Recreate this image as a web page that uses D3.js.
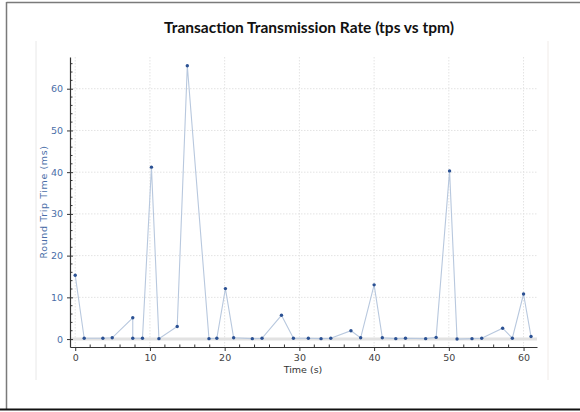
<!DOCTYPE html>
<html>
<head>
<meta charset="utf-8">
<script src="https://cdn.jsdelivr.net/npm/d3@7/dist/d3.min.js"></script>
<style>
  html, body { margin: 0; padding: 0; background: #fff; }
  svg { display: block; }
</style>
</head>
<body>
<svg id="chart" width="580" height="412"></svg>
<script>
const title = "Transaction Transmission Rate (tps vs tpm)";
const xLabel = "Time (s)";
const yLabel = "Round Trip Time (ms)";
const times = [0, 1.2, 3.7, 4.95, 7.7, 7.7, 9.0, 10.2, 11.2, 13.65, 15.0, 17.9, 18.95, 20.1, 21.2, 23.7, 25.0, 27.6, 29.2, 31.2, 32.9, 34.2, 36.9, 38.2, 40.0, 41.1, 42.9, 44.2, 46.9, 48.3, 50.1, 51.1, 53.1, 54.4, 57.2, 58.5, 60.0, 61.0];
const rtt = [15.3, 0.2, 0.2, 0.3, 5.1, 0.2, 0.2, 41.2, 0.1, 3.0, 65.5, 0.1, 0.2, 12.1, 0.3, 0.1, 0.2, 5.7, 0.2, 0.2, 0.1, 0.2, 2.0, 0.3, 13.0, 0.3, 0.1, 0.2, 0.1, 0.4, 40.3, 0.0, 0.1, 0.2, 2.6, 0.2, 10.8, 0.6];
const xTicks = [0, 10, 20, 30, 40, 50, 60];
const yTicks = [0, 10, 20, 30, 40, 50, 60];
const xDomain = [-0.7, 61.8];
const yDomain = [-1.9, 67.6];

const data = times.map((t, i) => ({ t, v: rtt[i] }));
const svg = d3.select("#chart");

// outer frame
svg.append("line").attr("x1", 6.5).attr("x2", 580).attr("y1", 2.5).attr("y2", 2.5).attr("stroke", "#7a7a7a").attr("stroke-width", 1.5);
svg.append("line").attr("x1", 6.5).attr("x2", 6.5).attr("y1", 2).attr("y2", 410).attr("stroke", "#7a7a7a").attr("stroke-width", 1.5);
svg.append("line").attr("x1", 0).attr("x2", 580).attr("y1", 409.5).attr("y2", 409.5).attr("stroke", "#111").attr("stroke-width", 2);
// inner faint panel edges
svg.append("line").attr("x1", 36).attr("x2", 36).attr("y1", 41).attr("y2", 380).attr("stroke", "#e8e8e8");
svg.append("line").attr("x1", 548).attr("x2", 548).attr("y1", 41).attr("y2", 380).attr("stroke", "#f0ebe8");

// title
svg.append("text").attr("x", 309).attr("y", 33).attr("text-anchor", "middle")
  .attr("font-family", "Lato, 'Liberation Sans', sans-serif").attr("font-weight", "bold")
  .attr("font-size", 14.5).attr("fill", "#111")
  .attr("textLength", 290).attr("lengthAdjust", "spacingAndGlyphs")
  .text(title);

const x = d3.scaleLinear().domain(xDomain).range([70, 537]);
const y = d3.scaleLinear().domain(yDomain).range([347, 57]);

// grid
const grid = svg.append("g");
grid.selectAll(".gx").data(xTicks).join("line")
  .attr("x1", d => x(d)).attr("x2", d => x(d)).attr("y1", 57).attr("y2", 347)
  .attr("stroke", "#e3e3e3").attr("stroke-dasharray", "1.5,1.5");
grid.selectAll(".gy").data(yTicks.filter(d => d !== 0)).join("line")
  .attr("x1", 70).attr("x2", 537).attr("y1", d => y(d)).attr("y2", d => y(d))
  .attr("stroke", "#e3e3e3").attr("stroke-dasharray", "1.5,1.5");
grid.append("line").attr("x1", 70).attr("x2", 537).attr("y1", y(0)).attr("y2", y(0))
  .attr("stroke", "#e2e2e2").attr("stroke-width", 3);

// axes
const xAxis = d3.axisBottom(x).tickValues(xTicks).tickSize(4).tickSizeOuter(0).tickPadding(3);
const gx = svg.append("g").attr("transform", "translate(0,347)").call(xAxis);
gx.select(".domain").attr("stroke", "#333").attr("stroke-width", 1.2);
gx.selectAll(".tick line").attr("stroke", "#333");
gx.selectAll("text").attr("font-family", "'DejaVu Sans', sans-serif").attr("font-size", 9.5).attr("fill", "#444");
const xMinor = d3.range(0, 62, 2).filter(d => d % 10 !== 0);
svg.append("g").selectAll("line").data(xMinor).join("line")
  .attr("x1", d => x(d)).attr("x2", d => x(d)).attr("y1", 347).attr("y2", 344.5).attr("stroke", "#333");

const yAxis = d3.axisLeft(y).tickValues(yTicks).tickSize(3).tickSizeOuter(0).tickPadding(4);
const gy = svg.append("g").attr("transform", "translate(70,0)").call(yAxis);
gy.select(".domain").attr("stroke", "#333").attr("stroke-width", 1.2);
gy.selectAll(".tick line").attr("stroke", "#333").attr("x2", 3).attr("x1", -3);
gy.selectAll("text").attr("font-family", "'DejaVu Sans', sans-serif").attr("font-size", 9.5).attr("fill", "#4a6ea8");
const yMinor = d3.range(0, 67, 2).filter(d => d % 10 !== 0);
svg.append("g").selectAll("line").data(yMinor).join("line")
  .attr("x1", 70).attr("x2", 72.5).attr("y1", d => y(d)).attr("y2", d => y(d)).attr("stroke", "#333");

// labels
svg.append("text").attr("x", 303).attr("y", 373).attr("text-anchor", "middle")
  .attr("font-family", "'DejaVu Sans', sans-serif").attr("font-size", 9.5).attr("fill", "#333").text(xLabel);
svg.append("text").attr("transform", "translate(47,202) rotate(-90)").attr("text-anchor", "middle")
  .attr("font-family", "'DejaVu Sans', sans-serif").attr("font-size", 9.5).attr("fill", "#4a6ea8")
  .attr("letter-spacing", 0.6).text(yLabel);

// line and points
const line = d3.line().x(d => x(d.t)).y(d => y(d.v));
svg.append("path").datum(data).attr("d", line).attr("fill", "none")
  .attr("stroke", "#b8c8de").attr("stroke-width", 1.1);
svg.append("g").selectAll("circle").data(data).join("circle")
  .attr("cx", d => x(d.t)).attr("cy", d => y(d.v)).attr("r", 1.7).attr("fill", "#2b5193");
</script>
</body>
</html>
